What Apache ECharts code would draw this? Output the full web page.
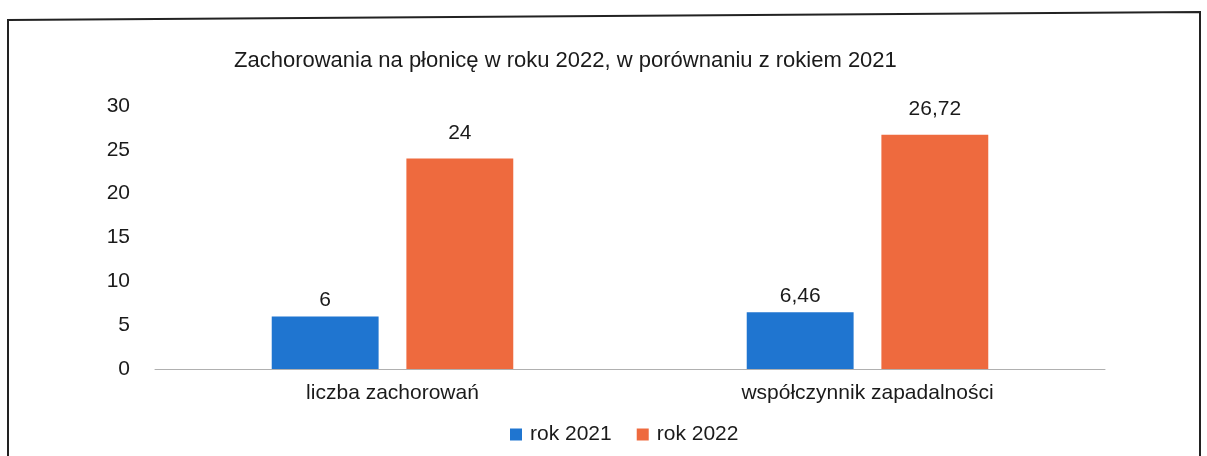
<!DOCTYPE html>
<html>
<head>
<meta charset="utf-8">
<script src="https://cdn.jsdelivr.net/npm/echarts@6/dist/echarts.min.js"></script>
<style>
  html, body { margin: 0; padding: 0; background: #fff; }
  #main { width: 1207px; height: 456px; }
</style>
</head>
<body>
<div id="main"></div>
<script>
var categories = ['liczba zachorowań', 'współczynnik zapadalności'];
var seriesNames = ['rok 2021', 'rok 2022'];
var values2021 = [6, 6.46];
var values2022 = [24, 26.72];

var font = '"Liberation Sans", Arial, sans-serif';

var myChart = echarts.init(document.getElementById('main'));

function commaLabel(p) {
	return String(p.value).replace('.', ',');
}

var option = {
	backgroundColor: '#fff',
	animation: false,
	title: {
		text: 'Zachorowania na płonicę w roku 2022, w porównaniu z rokiem 2021',
		left: 229,
		top: 45,
		textStyle: {
			fontFamily: font,
			fontSize: 22,
			fontWeight: 'normal',
			color: '#1a1a1a'
		}
	},
	legend: {
		data: seriesNames,
		bottom: 6,
		left: 505,
		itemWidth: 12,
		itemHeight: 12,
		itemGap: 25,
		icon: 'rect',
		textStyle: {
			fontFamily: font,
			fontSize: 21,
			color: '#1a1a1a',
			padding: [0, 0, 0, 3]
		}
	},
	grid: {
		left: 155,
		right: 102,
		top: 106,
		bottom: 87
	},
	xAxis: {
		type: 'category',
		data: categories,
		axisLine: { lineStyle: { color: '#b0b0b0', width: 1 } },
		axisTick: { show: false },
		axisLabel: {
			margin: 14,
			fontFamily: font,
			fontSize: 21,
			color: '#1a1a1a'
		}
	},
	yAxis: {
		type: 'value',
		min: 0,
		max: 30,
		interval: 5,
		splitLine: { show: false },
		axisLine: { show: false },
		axisTick: { show: false },
		axisLabel: {
			margin: 25,
			fontFamily: font,
			fontSize: 21,
			color: '#1a1a1a'
		}
	},
	series: [{
		name: seriesNames[0],
		type: 'bar',
		data: values2021,
		barWidth: '22.5%',
		barGap: '26%',
		itemStyle: { color: '#1f75d0' },
		label: {
			show: true,
			position: 'top',
			distance: 6,
			formatter: commaLabel,
			fontFamily: font,
			fontSize: 21,
			color: '#1a1a1a'
		}
	}, {
		name: seriesNames[1],
		type: 'bar',
		data: values2022,
		barWidth: '22.5%',
		itemStyle: { color: '#ee6a3e' },
		label: {
			show: true,
			position: 'top',
			distance: 15,
			formatter: commaLabel,
			fontFamily: font,
			fontSize: 21,
			color: '#1a1a1a'
		}
	}],
	graphic: [{
		type: 'polyline',
		shape: { points: [[8, 456], [8, 20], [1200, 12], [1200, 456]] },
		style: { stroke: '#222', lineWidth: 2, fill: null }
	}]
};
myChart.setOption(option);
</script>
</body>
</html>
